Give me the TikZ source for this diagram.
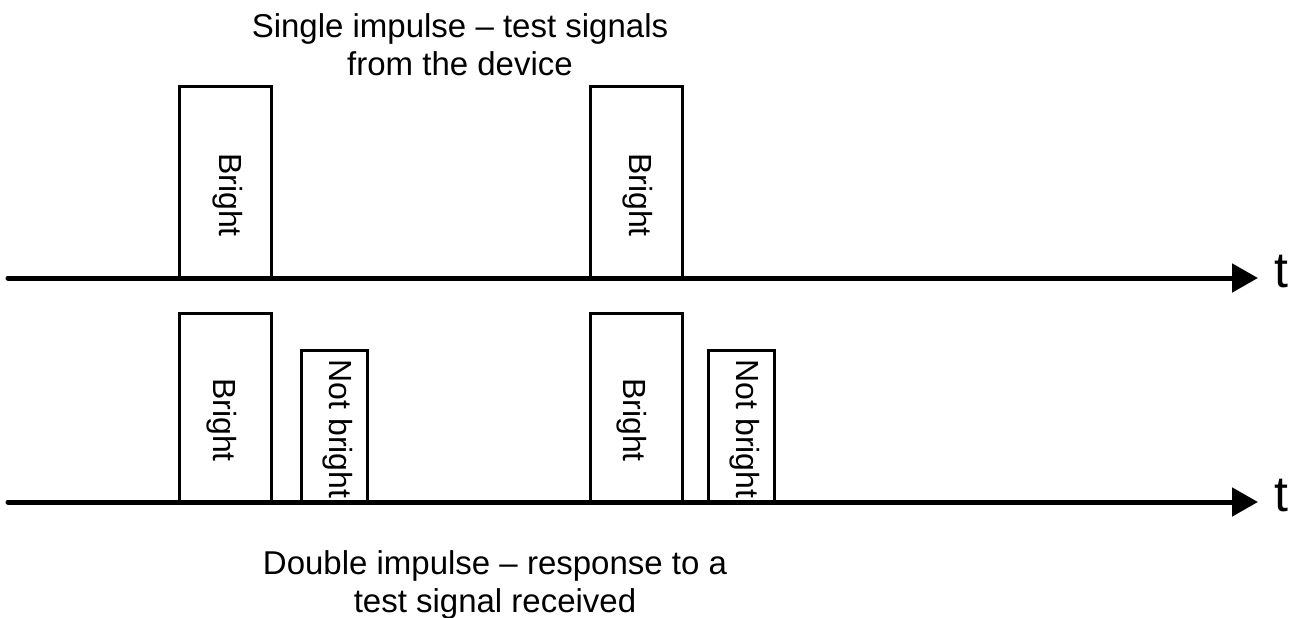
\documentclass[tikz,border=0pt]{standalone}
\usepackage{fontspec}
\setmainfont{Liberation Sans}
\usetikzlibrary{arrows.meta}
\begin{document}
\begin{tikzpicture}[x=1pt,y=-1pt,
  axis/.style={line width=5pt, line cap=round, -{Triangle[length=26pt,width=28pt]}},
  pulse/.style={draw, line width=3pt, anchor=south west, inner sep=0pt, outer sep=0pt},
  vlabel/.style={rotate=-90, font=\fontsize{32}{38}\selectfont, inner sep=0pt},
  captxt/.style={align=center, font=\fontsize{33}{38}\selectfont, inner sep=0pt},
  tlab/.style={font=\fontsize{50}{60}\selectfont, inner sep=0pt}]
\useasboundingbox (0,0) rectangle (1295,618);
% top row pulses
\node[pulse, minimum width=92pt, minimum height=192pt] (p1) at (179,278) {};
\node[pulse, minimum width=92pt, minimum height=192pt] (p2) at (590,278) {};
\node[vlabel] (l1) at (228,195) {Bright};
\node[vlabel] (l2) at (638,195) {Bright};
% bottom row pulses
\node[pulse, minimum width=92pt, minimum height=189pt] (q1) at (179,502) {};
\node[pulse, minimum width=66pt, minimum height=152pt] (r1) at (301,502) {};
\node[pulse, minimum width=92pt, minimum height=189pt] (q2) at (590,502) {};
\node[pulse, minimum width=66pt, minimum height=152pt] (r2) at (708,502) {};
\node[vlabel] (m1) at (222,420) {Bright};
\node[vlabel] (m2) at (632,420) {Bright};
\node[vlabel] (n1) at (338,429) {Not bright};
\node[vlabel] (n2) at (745,429) {Not bright};
% axes
\coordinate (a0) at (8,278);
\coordinate (a1) at (1258,278);
\coordinate (b0) at (8,502);
\coordinate (b1) at (1258,502);
\draw[axis] (a0) -- (a1);
\draw[axis] (b0) -- (b1);
\node[tlab] (t1) at (1281,272) {t};
\node[tlab] (t2) at (1281,496) {t};
% captions
\node[captxt, anchor=base] (c1) at (460,75) {Single impulse -- test signals\\from the device};
\node[captxt, anchor=base] (c2) at (495,612) {Double impulse -- response to a\\test signal received};
\end{tikzpicture}
\end{document}
